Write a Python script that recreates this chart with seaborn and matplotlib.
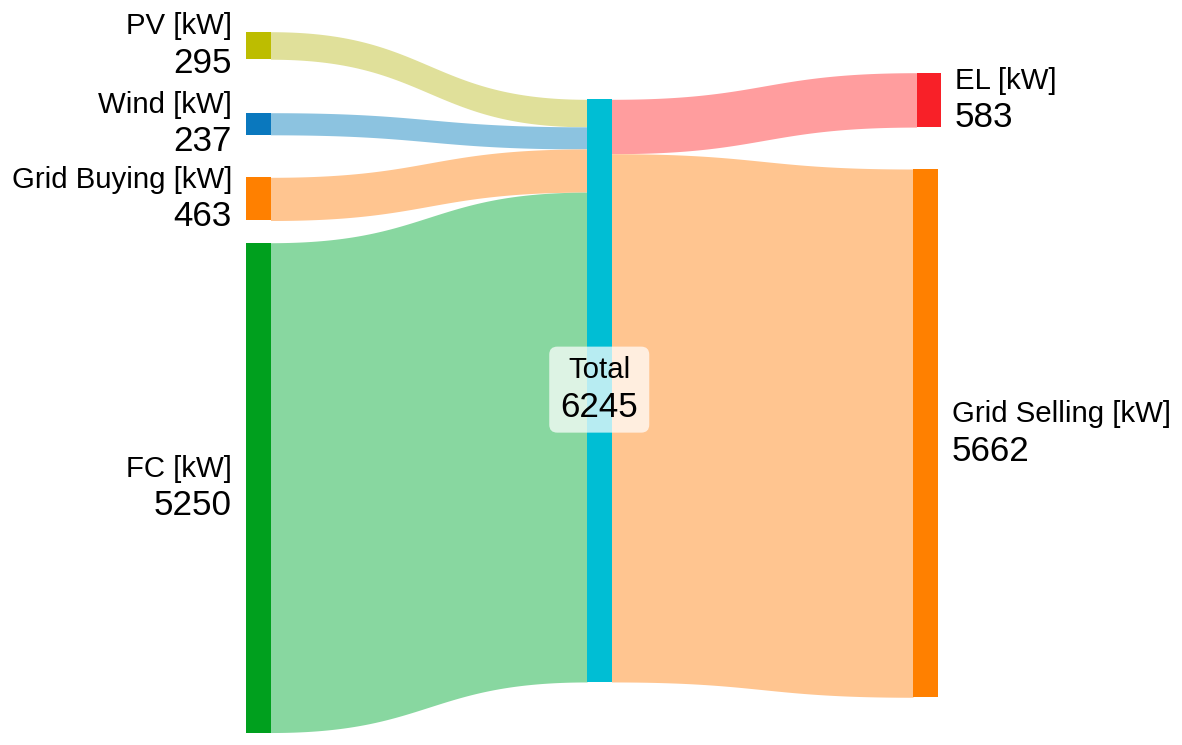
"""
Sankey of the power balance: sources -> Total -> sinks.
"""

import numpy as np
import matplotlib.pyplot as plt
import seaborn as sns
from matplotlib.patches import FancyBboxPatch

# ---------------------------------------------------------------------------
# data
# ---------------------------------------------------------------------------
source_names = ['PV', 'Wind', 'Grid Buying', 'FC']
source_kw = [295, 237, 463, 5250]
sink_names = ['EL', 'Grid Selling']
sink_kw = [583, 5662]
hub_name = 'Total'
unit = '[kW]'

# ---------------------------------------------------------------------------
# layout / style (pixels on a 1182 x 745 canvas)
# ---------------------------------------------------------------------------
px_per_kw = 0.0933
node_w = 24.5
left_x = 246
hub_x = 587
right_x = [916.5, 913]
left_tops = [31.7, 112.7, 177.3, 242.7]
hub_top = 99.3
right_tops = [72.7, 169.0]

source_colors = ['#bdbd00', '#0a78be', '#ff8000', '#00a01e']
source_link_colors = ['#e0e09a', '#8cc3e0', '#ffc590', '#88d7a0']
sink_colors = ['#f82028', '#ff8000']
sink_link_colors = ['#ff9d9e', '#ffc590']
hub_color = '#00bed4'

sns.set_theme(style='white')
plt.rcParams['font.family'] = ['Liberation Sans', 'DejaVu Sans']
name_size = 21.2
value_size = 25.2


def link(ax, x0, y0, x1, y1, h, color):
    """Filled cubic bezier ribbon from (x0, y0) to (x1, y1), thickness h."""
    t = np.linspace(0, 1, 200)
    xm = (x0 + x1) / 2
    xs = (1 - t) ** 3 * x0 + 3 * (1 - t) ** 2 * t * xm + 3 * (1 - t) * t ** 2 * xm + t ** 3 * x1
    ys = (1 - t) ** 3 * y0 + 3 * (1 - t) ** 2 * t * y0 + 3 * (1 - t) * t ** 2 * y1 + t ** 3 * y1
    ax.fill_between(xs, ys, ys + h, color=color, lw=0, zorder=1)


def node_label(ax, x, yc, name, value, ha):
    ax.text(x, yc - 11, f'{name} {unit}', ha=ha, va='baseline',
            fontsize=name_size, color='black', zorder=5)
    ax.text(x, yc + 27.5, f'{value}', ha=ha, va='baseline',
            fontsize=value_size, color='black', zorder=5)


fig = plt.figure(figsize=(11.82, 7.45), dpi=100)
ax = fig.add_axes([0, 0, 1, 1])
ax.set_xlim(0, 1182)
ax.set_ylim(745, 0)
ax.axis('off')

hub_kw = sum(source_kw)

# sources -> hub
cursor = hub_top
for name, kw, top, col, lcol in zip(source_names, source_kw, left_tops,
                                     source_colors, source_link_colors):
    h = kw * px_per_kw
    link(ax, left_x + node_w, top, hub_x, cursor, h, lcol)
    ax.bar(left_x, h, width=node_w, bottom=top, align='edge', color=col, lw=0, zorder=3)
    node_label(ax, left_x - 14, top + h / 2, name, kw, 'right')
    cursor += h

# hub -> sinks
cursor = hub_top
for name, kw, top, x, col, lcol in zip(sink_names, sink_kw, right_tops, right_x,
                                        sink_colors, sink_link_colors):
    h = kw * px_per_kw
    link(ax, hub_x + node_w, cursor, x, top, h, lcol)
    ax.bar(x, h, width=node_w, bottom=top, align='edge', color=col, lw=0, zorder=3)
    node_label(ax, x + node_w + 14, top + h / 2, name, kw, 'left')
    cursor += h

# hub node
hub_h = hub_kw * px_per_kw
ax.bar(hub_x, hub_h, width=node_w, bottom=hub_top, align='edge', color=hub_color, lw=0, zorder=3)
hub_cx = hub_x + node_w / 2
hub_cy = hub_top + hub_h / 2
box = FancyBboxPatch((hub_cx - 50, hub_cy - 44), 100, 86,
                     boxstyle='round,pad=0,rounding_size=8',
                     fc='white', ec='none', alpha=0.72, zorder=4)
ax.add_patch(box)
ax.text(hub_cx, hub_cy - 13, hub_name, ha='center', va='baseline',
        fontsize=name_size, color='black', zorder=5)
ax.text(hub_cx, hub_cy + 26, f'{hub_kw}', ha='center', va='baseline',
        fontsize=value_size, color='black', zorder=5)

plt.savefig('out.png', dpi=100)
plt.close()
